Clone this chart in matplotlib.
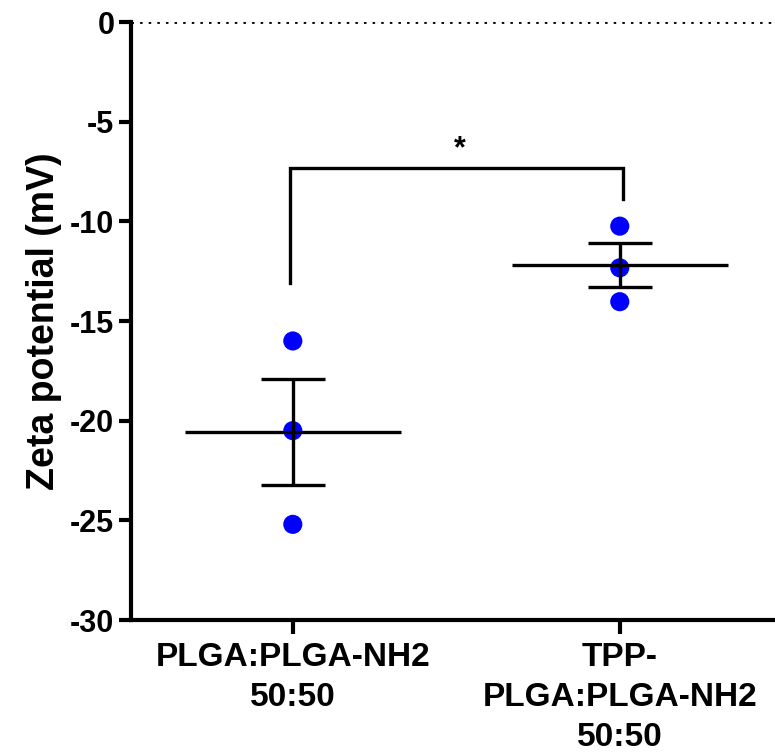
import numpy as np
import matplotlib
matplotlib.use('Agg')
import matplotlib.pyplot as plt

plt.rcParams['font.family'] = ['Liberation Sans', 'DejaVu Sans']
plt.rcParams['font.weight'] = 'bold'

# data
groups = ['PLGA:PLGA-NH2\n50:50', 'TPP-\nPLGA:PLGA-NH2\n50:50']
plga_vals = [-16.0, -20.5, -25.2]
tpp_vals = [-10.24, -12.33, -14.03]
sig_label = '*'
yticks = [0, -5, -10, -15, -20, -25, -30]

fig = plt.figure(figsize=(7.75, 7.52), dpi=100)
ax = fig.add_axes([0.169, 0.1755, 0.831, 0.7952])

xpos = [0, 0.99]
for x, vals in zip(xpos, [plga_vals, tpp_vals]):
    vals = np.array(vals)
    mean = vals.mean()
    sem = vals.std(ddof=1) / np.sqrt(len(vals))
    ax.scatter([x] * len(vals), vals, s=190, color='#0000ff', zorder=2,
               edgecolors='none')
    ax.hlines(mean, x - 0.327, x + 0.327, color='black', lw=2.4, zorder=3)
    ax.errorbar(x, mean, yerr=sem, color='black', lw=2.4, capsize=23,
                capthick=2.4, zorder=3)

# zero reference line
ax.axhline(0, color='black', lw=2.0, ls=(0, (0.9, 2.2)), zorder=1)

# significance bracket
top = -7.3
ax.plot([xpos[0] - 0.01, xpos[0] - 0.01, xpos[1] + 0.01, xpos[1] + 0.01],
        [-13.1, top, top, -8.9], color='black', lw=2.4,
        solid_joinstyle='miter')
ax.text((xpos[0] + xpos[1]) / 2 + 0.01, top + 0.15, sig_label,
        ha='center', va='bottom', fontsize=22)

ax.set_xlim(-0.49, 1.46)
ax.set_ylim(-30, 0)
ax.set_yticks(yticks)
ax.set_yticklabels([str(t) for t in yticks])
ax.set_xticks(xpos)
ax.set_xticklabels(groups, fontsize=24, linespacing=1.38)
ax.set_ylabel('Zeta potential (mV)', fontsize=27, fontweight='bold',
              labelpad=6)

for side in ['top', 'right']:
    ax.spines[side].set_visible(False)
for side in ['left', 'bottom']:
    ax.spines[side].set_linewidth(3)
ax.tick_params(axis='y', length=9, width=3, labelsize=22, pad=3)
ax.tick_params(axis='x', length=10, width=3, pad=6)

fig.savefig('out.png', dpi=100)
